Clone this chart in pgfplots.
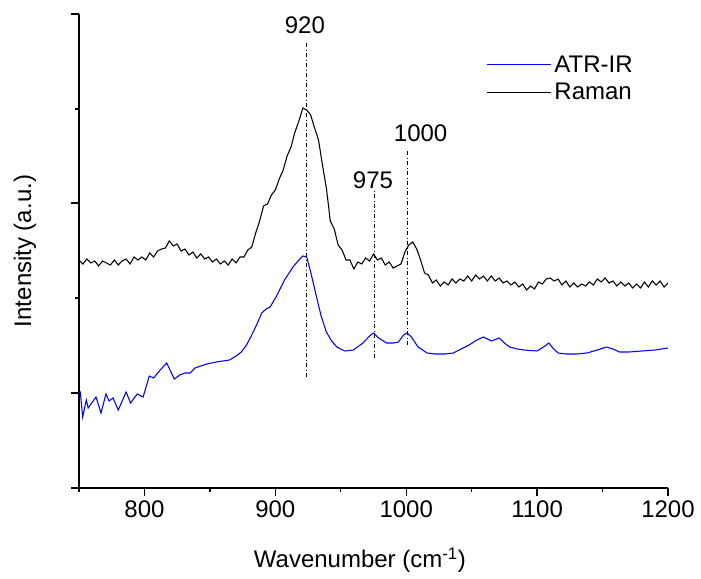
\documentclass[border=0pt]{standalone}
\usepackage{pgfplots}
\pgfplotsset{compat=1.18}
\usepackage{fontspec}
\setmainfont{Liberation Sans}
\begin{document}
\begin{tikzpicture}
\begin{axis}[
  scale only axis,
  width=441.75pt, height=355.5pt,
  xmin=750, xmax=1200, ymin=0, ymax=474,
  axis lines=left,
  axis line style={-, line width=1.1pt},
  every tick/.style={black, line width=1.0pt},
  tick align=outside,
  major tick length=6pt,
  minor tick length=3pt,
  xtick={800,900,1000,1100,1200},
  minor xtick={750,850,950,1050,1150},
  ytick={0,95,285,474},
  minor ytick={190,379},
  yticklabels={},
  font=\fontsize{18}{21.6}\selectfont,
  /pgf/number format/assume math mode=true,
  /pgf/number format/1000 sep={},
  xlabel={Wavenumber (cm\textsuperscript{-1})},
  ylabel={Intensity (a.u.)},
  xlabel style={at={(axis description cs:0.477,-0.152)}, anchor=center, font=\fontsize{18}{21.6}\selectfont},
  ylabel style={at={(axis description cs:-0.092,0.5)}, anchor=center, font=\fontsize{18}{21.6}\selectfont},
  xticklabel style={font=\fontsize{18}{21.6}\selectfont},
  legend style={draw=none, fill=none, at={(rel axis cs:0.685,0.924)}, anchor=north west,
    row sep=3pt, font=\fontsize{18}{21.6}\selectfont},
  legend cell align=left,
]
\addlegendimage{blue, line width=0.8pt, legend image code/.code={\draw[blue, line width=0.8pt] (0pt,0pt) -- (45pt,0pt); \path (0pt,0pt) -- (48pt,0pt);}}
\addlegendentry{ATR-IR}
\addlegendimage{black, line width=0.8pt, legend image code/.code={\draw[black, line width=0.8pt] (0pt,0pt) -- (45pt,0pt); \path (0pt,0pt) -- (48pt,0pt);}}
\addlegendentry{Raman}
\addplot[blue, line width=0.8pt, forget plot] coordinates {
(750,96)(751,96)(752.8,71)(755.6,88)(757,80)(763,91)(766.8,75)(770.6,94)(773,87)(776,90)
(780,78)(786,96)(789.4,85)(794.5,94)(799,91)(803.7,112)(807,110)(812,118)(817,125)(822.8,109)
(827,113)(831,115)(835,115)(838.6,120)(847.5,124)(855,126)(865,128)(870,132)(874,136)(878,143)
(882,153)(886,164)(889.6,175)(893,179)(896,181)(901,192)(907,208)(913.5,221)(918,228)(921,232)
(924,231)(927,216)(931.5,191)(935,172)(939,156)(943,147)(947,141)(953,137)(959.6,138)(967,145)
(972,152)(975,155)(979,150)(985,145)(990,145)(994,146)(998,153)(1000.6,155)(1004,151)(1009,141)
(1016,135)(1022,134)(1030,134)(1036,135)(1042,139)(1048,143)(1054,148)(1059,151)(1065,147)(1071,150)
(1075,145)(1079,141)(1085,139)(1090,138)(1100,137)(1106,142)(1109,145)(1112,140)(1116,135)(1122,134)
(1130,134)(1138,135)(1146,138)(1153,141)(1158,139)(1163,136)(1170,136)(1180,137)(1190,138)(1200,140)
};
\addplot[black, line width=0.8pt, forget plot] coordinates {
(750,228)(753,224)(756,229)(759,225)(762,227)(765,222)(768,227)(771,225)(774,223)(777,228)
(780,223)(783,227)(786,229)(789,224)(792,231)(795,228)(798,231)(801,228)(804,235)(807,231)
(810,237)(813,239)(816,240)(819,247)(822,242)(825,244)(828,237)(831,239)(834,233)(837,236)
(840,230)(843,234)(846,229)(849,231)(852,226)(855,229)(858,224)(861,227)(864,223)(867,229)
(870,225)(873,231)(876,231)(879,238)(882,241)(885,255)(888,267)(891,282)(894,284)(897,293)
(900,298)(903,309)(906,318)(909,332)(912,341)(915,356)(918,367)(921,380)(924,378)(927,373)
(930,360)(933,348)(936,323)(939,300)(942,267)(945,259)(948,243)(951,238)(954,228)(957,228)
(960,219)(963,226)(966,224)(969,230)(972,227)(975,234)(978,228)(981,230)(984,223)(987,226)
(990,220)(993,222)(996,224)(999,236)(1002,243)(1005,246)(1008,239)(1011,228)(1014,215)(1017,213)
(1020,205)(1023,208)(1026,202)(1029,206)(1032,203)(1035,209)(1038,205)(1041,209)(1044,207)(1047,212)
(1050,207)(1053,213)(1056,209)(1059,212)(1062,207)(1065,212)(1068,207)(1071,210)(1074,205)(1077,207)
(1080,203)(1083,206)(1086,201)(1089,204)(1092,198)(1095,202)(1098,199)(1101,206)(1104,204)(1107,209)
(1110,210)(1113,207)(1116,209)(1119,203)(1122,207)(1125,201)(1128,205)(1131,201)(1134,204)(1137,202)
(1140,206)(1143,203)(1146,209)(1149,206)(1152,210)(1155,205)(1158,207)(1161,202)(1164,206)(1167,202)
(1170,205)(1173,200)(1176,204)(1179,200)(1182,206)(1185,201)(1188,207)(1191,203)(1194,207)(1197,201)
(1200,205)
};
\addplot[black, line width=0.5pt, dash dot, forget plot] coordinates {(924,111)(924,446)};
\addplot[black, line width=0.5pt, dash dot, forget plot] coordinates {(976,130)(976,298)};
\addplot[black, line width=0.5pt, dash dot, forget plot] coordinates {(1001,143)(1001,338)};
\node[font=\fontsize{18}{21.6}\selectfont] at (axis cs:922.6,463) {920};
\node[font=\fontsize{18}{21.6}\selectfont] at (axis cs:974.6,308) {975};
\node[font=\fontsize{18}{21.6}\selectfont] at (axis cs:1011,355) {1000};
\end{axis}
\pgfresetboundingbox
\path (current axis.south west) ++(-59.25pt,-68.25pt) rectangle ++(525.75pt,434.25pt);
\end{tikzpicture}
\end{document}
